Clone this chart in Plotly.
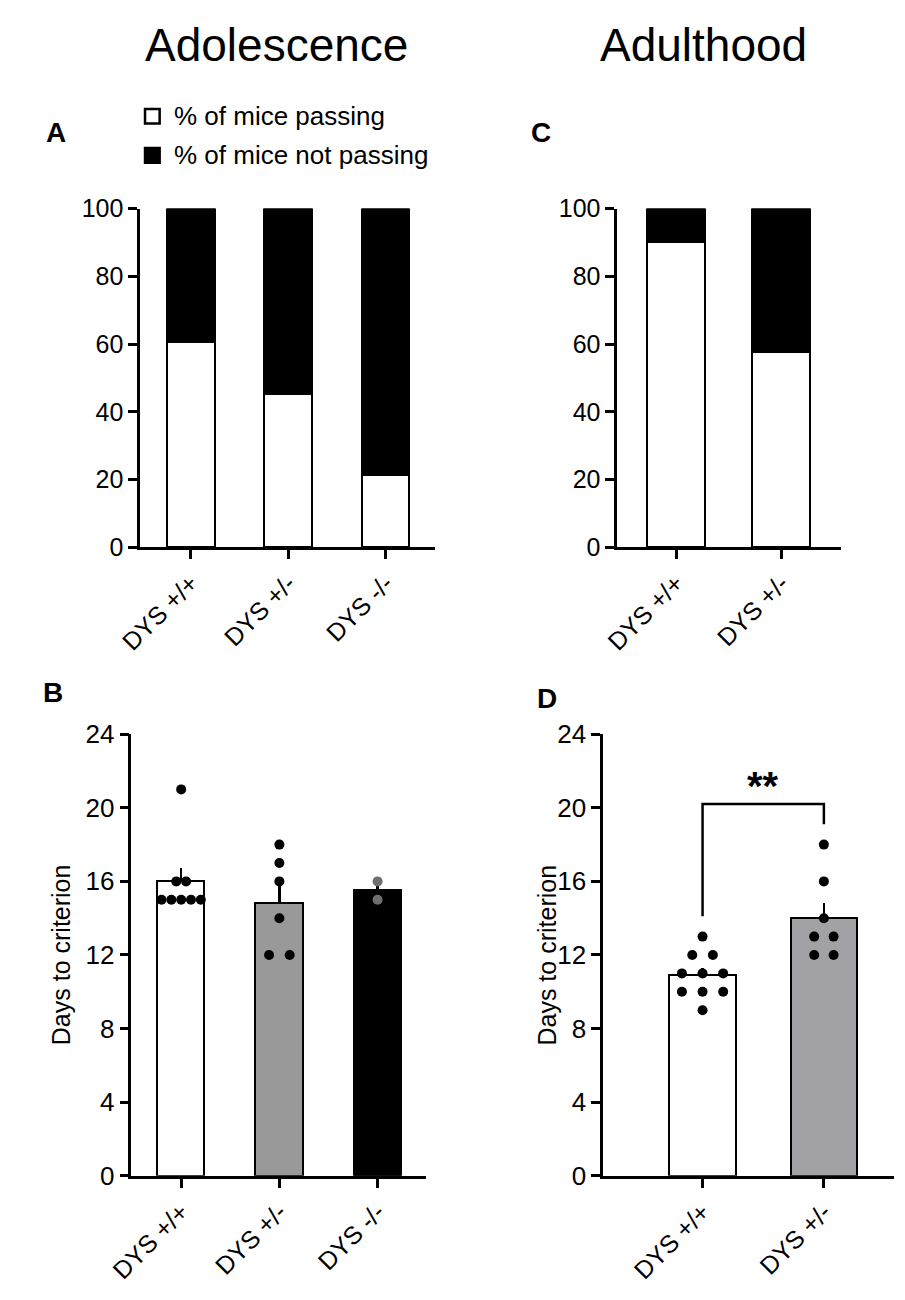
import plotly.graph_objects as go
from collections import Counter
import numpy as np

# ---- data ----
groups_adol = ['DYS +/+', 'DYS +/-', 'DYS -/-']
groups_adult = ['DYS +/+', 'DYS +/-']

pass_adol = [60.6, 45.5, 21.4]
pass_adult = [90.3, 57.9]

days_adol = [
    [21, 16, 16, 15, 15, 15, 15, 15],
    [18, 17, 16, 14, 12, 12],
    [16, 15],
]
days_adult = [
    [13, 12, 12, 11, 11, 11, 10, 10, 10, 9],
    [18, 16, 14, 13, 13, 12, 12],
]

W, H = 905, 1300
FONT = 'Liberation Sans, Arial, sans-serif'


def px(x):
    return x / W


def py(y):
    return 1 - y / H


def sem(v):
    v = np.array(v, dtype=float)
    return v.std(ddof=1) / np.sqrt(len(v))


def swarm(vals, step):
    # spread equal values side by side
    cnt = Counter(vals)
    seen = Counter()
    out = []
    for v in vals:
        n = cnt[v]
        out.append((seen[v] - (n - 1) / 2) * step)
        seen[v] += 1
    return out


fig = go.Figure()

# ---- panel A ----
fig.add_trace(go.Bar(x=list(range(3)), y=pass_adol, width=0.49,
                     marker=dict(color='white', line=dict(color='black', width=2.5)),
                     xaxis='x', yaxis='y', showlegend=False))
fig.add_trace(go.Bar(x=list(range(3)), y=[100 - p for p in pass_adol], width=0.49,
                     marker=dict(color='black', line=dict(color='black', width=2.5)),
                     xaxis='x', yaxis='y', showlegend=False))

# ---- panel C ----
fig.add_trace(go.Bar(x=list(range(2)), y=pass_adult, width=0.555,
                     marker=dict(color='white', line=dict(color='black', width=2.5)),
                     xaxis='x3', yaxis='y3', showlegend=False))
fig.add_trace(go.Bar(x=list(range(2)), y=[100 - p for p in pass_adult], width=0.555,
                     marker=dict(color='black', line=dict(color='black', width=2.5)),
                     xaxis='x3', yaxis='y3', showlegend=False))

# ---- panel B ----
b_colors = ['white', '#999999', 'black']
b_dot_colors = ['black', 'black', '#6e6e6e']
b_steps = [0.1, 0.21, 0.2]
fig.add_trace(go.Bar(x=list(range(3)), y=[np.mean(v) for v in days_adol], width=0.48,
                     marker=dict(color=b_colors, line=dict(color='black', width=2.5)),
                     error_y=dict(type='data', symmetric=False,
                                  array=[sem(v) for v in days_adol], arrayminus=[0] * 3,
                                  color='black', thickness=2.5, width=0),
                     xaxis='x2', yaxis='y2', showlegend=False))
for i, v in enumerate(days_adol):
    off = swarm(v, b_steps[i])
    fig.add_trace(go.Scatter(x=[i + o for o in off], y=v, mode='markers',
                             marker=dict(color=b_dot_colors[i], size=10),
                             xaxis='x2', yaxis='y2', showlegend=False))

# ---- panel D ----
d_colors = ['white', '#a2a2a6']
d_steps = [0.17, 0.16]
fig.add_trace(go.Bar(x=list(range(2)), y=[np.mean(v) for v in days_adult], width=0.546,
                     marker=dict(color=d_colors, line=dict(color='black', width=2.5)),
                     error_y=dict(type='data', symmetric=False,
                                  array=[sem(v) for v in days_adult], arrayminus=[0] * 2,
                                  color='black', thickness=2.5, width=0),
                     xaxis='x4', yaxis='y4', showlegend=False))
for i, v in enumerate(days_adult):
    off = swarm(v, d_steps[i])
    fig.add_trace(go.Scatter(x=[i + o for o in off], y=v, mode='markers',
                             marker=dict(color='black', size=10),
                             xaxis='x4', yaxis='y4', showlegend=False))

# ---- axes ----
ax_common = dict(showline=True, linecolor='black', linewidth=2.5, ticks='outside',
                 ticklen=9, tickwidth=2.5, tickcolor='black', showgrid=False,
                 zeroline=False, tickfont=dict(family=FONT, size=25, color='black'))

xa = dict(ax_common, tickmode='array', tickangle=-45)
fig.update_layout(
    xaxis=dict(xa, domain=[px(112), px(415)], range=[-0.52, 2.51],
               tickvals=list(range(3)), ticktext=groups_adol, anchor='y'),
    yaxis=dict(ax_common, domain=[py(536.6), py(190)], range=[0, 100],
               tickvals=[0, 20, 40, 60, 80, 100], anchor='x'),
    xaxis3=dict(xa, domain=[px(601.5), px(831)], range=[-0.56, 1.565],
                tickvals=list(range(2)), ticktext=groups_adult, anchor='y3'),
    yaxis3=dict(ax_common, domain=[py(536.6), py(190)], range=[0, 100],
                tickvals=[0, 20, 40, 60, 80, 100], anchor='x3'),
    xaxis2=dict(xa, domain=[px(103), px(405)], range=[-0.507, 2.49],
                tickvals=list(range(3)), ticktext=groups_adol, anchor='y2'),
    yaxis2=dict(ax_common, domain=[py(1180), py(728)], range=[0, 24],
                tickvals=[0, 4, 8, 12, 16, 20, 24], anchor='x2',
                tickfont=dict(family=FONT, size=26, color='black')),
    xaxis4=dict(xa, domain=[px(587), px(885)], range=[-0.82, 1.574],
                tickvals=list(range(2)), ticktext=groups_adult, anchor='y4'),
    yaxis4=dict(ax_common, domain=[py(1180), py(728)], range=[0, 24],
                tickvals=[0, 4, 8, 12, 16, 20, 24], anchor='x4',
                tickfont=dict(family=FONT, size=26, color='black')),
)

# ---- significance bracket in D ----
fig.add_shape(type='path', xref='x4', yref='y4',
              path='M 0,14.1 L 0,20.2 L 1,20.2 L 1,19.1',
              line=dict(color='black', width=2.5))


def label(text, x, y, size, anchor='center', angle=0, ref=('paper', 'paper')):
    return dict(text=text, x=x, y=y, xref=ref[0], yref=ref[1], showarrow=False,
                xanchor=anchor, yanchor='middle', textangle=angle,
                font=dict(family=FONT, size=size, color='black'))


annotations = [
    label('<b>**</b>', 0.5, 21.2, 40, ref=('x4', 'y4')),
    label('Adolescence', px(252), py(23), 46),
    label('Adulthood', px(690), py(23), 46),
    label('<b>A</b>', px(26), py(112), 28),
    label('<b>C</b>', px(523), py(112), 28),
    label('<b>B</b>', px(23), py(685), 28),
    label('<b>D</b>', px(529), py(691), 28),
    label('Days to criterion', px(31), py(954), 25, angle=-90),
    label('Days to criterion', px(529), py(954), 25, angle=-90),
    label('% of mice passing', px(145), py(95), 26, anchor='left'),
    label('% of mice not passing', px(145), py(135), 26, anchor='left'),
]

# legend squares
fig.add_shape(type='rect', xref='paper', yref='paper',
              x0=px(117), x1=px(132), y0=py(103), y1=py(88),
              fillcolor='white', line=dict(color='black', width=2.5))
fig.add_shape(type='rect', xref='paper', yref='paper',
              x0=px(117), x1=px(132), y0=py(143), y1=py(128),
              fillcolor='black', line=dict(color='black', width=2.5))

fig.update_layout(
    width=W, height=H, autosize=False,
    margin=dict(l=0, r=0, t=0, b=0),
    paper_bgcolor='white', plot_bgcolor='white',
    barmode='stack', bargap=0,
    annotations=annotations,
    font=dict(family=FONT, color='black'),
)

fig.write_html("out.html")
